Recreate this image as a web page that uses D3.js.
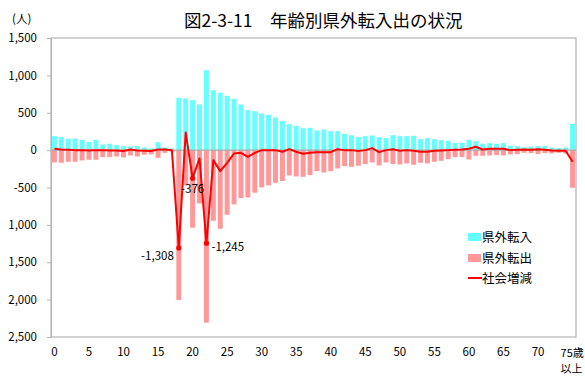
<!DOCTYPE html>
<html><head><meta charset="utf-8">
<script src="https://cdn.jsdelivr.net/npm/d3@7"></script>
<style>
body{margin:0;background:#fff;}
text{font-family:"Noto Sans CJK JP","Noto Sans",sans-serif;fill:#000;}
</style></head>
<body><svg id="c" width="585" height="376"></svg>
<script>
const ages = d3.range(0, 76);
const xTickLabels = ["0","5","10","15","20","25","30","35","40","45","50","55","60","65","70"];
const yTickValues = [1500,1000,500,0,-500,-1000,-1500,-2000,-2500];
const yTickLabels = ["1,500","1,000","500","0","-500","1,000","1,500","2,000","2,500"];
const inflow = [187,174,152,156,138,111,138,76,85,67,53,49,53,36,22,107,36,22,
  700,691,669,611,1070,802,767,726,686,611,535,521,490,472,437,388,348,325,294,299,
  263,276,254,254,218,200,174,187,196,174,160,200,187,
  187,192,147,160,147,134,125,98,98,138,120,85,94,85,94,58,53,40,49,53,53,36,27,36,348];
const outflow = [-165,-169,-156,-156,-138,-129,-129,-94,-94,-85,-98,-71,-85,-62,-58,-103,-36,-22,
  -2005,-470,-1038,-713,-2309,-945,-1052,-865,-727,-642,-633,-570,-499,-472,-437,-414,-339,-352,-357,-334,
  -281,-299,-281,-245,-214,-223,-209,-187,-165,-205,-165,-187,-192,
  -178,-196,-169,-178,-156,-143,-120,-94,-94,-125,-76,-76,-71,-67,-71,-58,-53,-36,-40,-53,-40,-45,-36,-45,-504];
const net = [18,9,4,0,0,-4,0,0,-4,-4,-13,9,-4,-9,-13,9,9,0,
  -1308,237,-376,-111,-1245,-134,-281,-170,-45,-36,-89,-36,0,0,0,-22,13,-22,-49,-36,
  -27,-27,-27,13,0,0,-13,0,27,-27,0,13,-9,
  0,-9,-22,-22,-9,-4,0,5,9,18,45,9,18,18,18,0,4,9,4,13,4,-4,-9,-9,-156];
const labeled = [{i:18,text:"-1,308"},{i:20,text:"-376"},{i:22,text:"-1,245"}];
const seriesNames = ["県外転入","県外転出","社会増減"];

const svg = d3.select("#c");
const L=51,R=576,T=38,B=337;
const x = d3.scaleBand().domain(ages).range([L,R]).paddingInner(0.28).paddingOuter(0.14);
const y = d3.scaleLinear().domain([-2500,1500]).range([B,T]);
const cx = i => x(i)+x.bandwidth()/2;

// title
svg.append("text").attr("x",184).attr("y",27).attr("font-size",17.5).attr("font-weight",400)
  .text("図2-3-11　年齢別県外転入出の状況");
svg.append("text").attr("x",12).attr("y",23).attr("font-size",11.5).text("(人)");

// bars
svg.append("g").selectAll("rect.in").data(ages).join("rect")
  .attr("x",i=>x(i)).attr("width",x.bandwidth())
  .attr("y",i=>y(inflow[i])).attr("height",i=>y(0)-y(inflow[i]))
  .attr("fill","#66ffff");
svg.append("g").selectAll("rect.out").data(ages).join("rect")
  .attr("x",i=>x(i)).attr("width",x.bandwidth())
  .attr("y",y(0)).attr("height",i=>y(outflow[i])-y(0))
  .attr("fill","#ff9999");

// frame
svg.append("rect").attr("x",L).attr("y",T).attr("width",R-L).attr("height",B-T)
  .attr("fill","none").attr("stroke","#b4b4b4").attr("stroke-width",1.2);
svg.append("line").attr("x1",L).attr("x2",R).attr("y1",y(0)).attr("y2",y(0))
  .attr("stroke","#a8a8a8").attr("stroke-width",1.2);

// y axis
const yAxis = d3.axisLeft(y).tickValues(yTickValues).tickSize(4)
  .tickFormat((d,k)=>yTickLabels[k]);
const gy = svg.append("g").attr("transform",`translate(${L},0)`).call(yAxis);
gy.select(".domain").attr("stroke","#b4b4b4");
gy.selectAll(".tick line").attr("stroke","#b4b4b4");
gy.selectAll(".tick text").attr("x",-14).attr("font-size",11.5).attr("fill","#000")
  .style("font-family",'"Noto Sans CJK JP",sans-serif');

// x axis labels
const xa = d3.axisBottom(x).tickValues(d3.range(0,71,5)).tickSize(0)
  .tickFormat((d,k)=>xTickLabels[k]);
const gx = svg.append("g").attr("transform",`translate(0,${B})`).call(xa);
gx.select(".domain").remove();
gx.selectAll(".tick text").attr("y",11).attr("font-size",11.5).attr("fill","#000")
  .style("font-family",'"Noto Sans CJK JP",sans-serif');
svg.append("text").attr("x",cx(75)-12).attr("y",357).attr("font-size",11).text("75歳");
svg.append("text").attr("x",cx(75)-12).attr("y",372.5).attr("font-size",11).text("以上");

// line
svg.append("path").datum(ages)
  .attr("d",d3.line().x(i=>cx(i)).y(i=>y(net[i])))
  .attr("fill","none").attr("stroke","#ff0000").attr("stroke-width",2).attr("stroke-linejoin","round");
svg.append("g").selectAll("circle").data(labeled).join("circle")
  .attr("cx",d=>cx(d.i)).attr("cy",d=>y(net[d.i])).attr("r",2.6).attr("fill","#ff0000");
const lab = svg.append("g").attr("font-size",11.5);
lab.append("text").attr("x",cx(18)-5).attr("y",y(net[18])+12).attr("text-anchor","end").text(labeled[0].text);
lab.append("text").attr("x",cx(20)).attr("y",y(net[20])+15).attr("text-anchor","middle").text(labeled[1].text);
lab.append("text").attr("x",cx(22)+5).attr("y",y(net[22])+8).attr("text-anchor","start").text(labeled[2].text);

// legend
const lg = svg.append("g").attr("font-size",12.5);
lg.append("rect").attr("x",468).attr("y",233).attr("width",13).attr("height",8).attr("fill","#66ffff");
lg.append("text").attr("x",482).attr("y",242).text(seriesNames[0]);
lg.append("rect").attr("x",468).attr("y",254).attr("width",13).attr("height",8).attr("fill","#ff9999");
lg.append("text").attr("x",482).attr("y",263).text(seriesNames[1]);
lg.append("line").attr("x1",468).attr("x2",482).attr("y1",278).attr("y2",278).attr("stroke","#ff0000").attr("stroke-width",2);
lg.append("text").attr("x",482).attr("y",283).text(seriesNames[2]);
</script></body></html>
